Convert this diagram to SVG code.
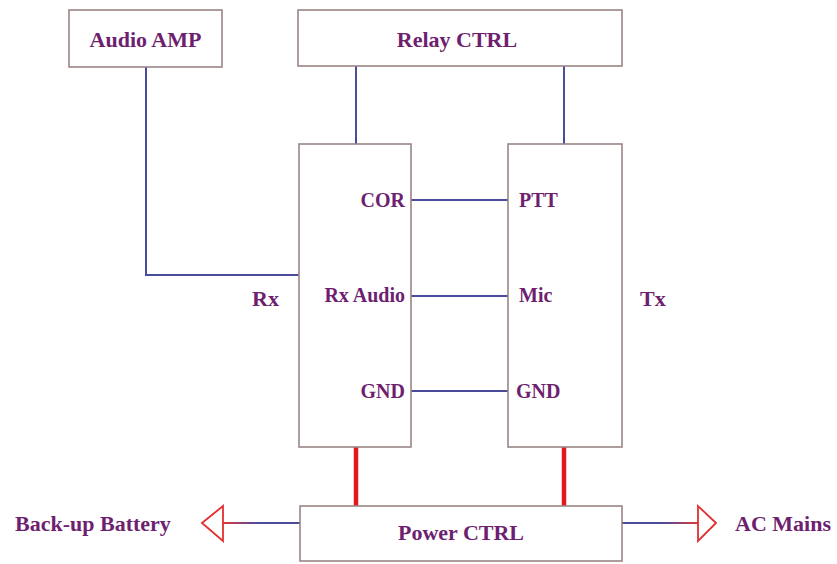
<svg xmlns="http://www.w3.org/2000/svg" width="837" height="564" viewBox="0 0 837 564">
<style>
.box{fill:#fff;stroke:#9c8585;stroke-width:1.6}
.t{font-family:"Liberation Serif","Times New Roman",serif;font-weight:bold;fill:#6e1f70}
.big{font-size:22px}
.port{font-size:20px}
.w{stroke:#4b4b9b;stroke-width:2;fill:none}
.p{stroke:#e3191c;stroke-width:4.5;fill:none}
.arr{fill:#fff;stroke:#e03030;stroke-width:1.8}
</style>
<defs>
<linearGradient id="gl" x1="223" y1="0" x2="300" y2="0" gradientUnits="userSpaceOnUse">
<stop offset="0" stop-color="#e03a3a"/><stop offset="0.45" stop-color="#4b4b9b"/><stop offset="1" stop-color="#4b4b9b"/>
</linearGradient>
<linearGradient id="gr" x1="622" y1="0" x2="698" y2="0" gradientUnits="userSpaceOnUse">
<stop offset="0" stop-color="#4b4b9b"/><stop offset="0.55" stop-color="#4b4b9b"/><stop offset="1" stop-color="#e03a3a"/>
</linearGradient>
</defs>
<rect width="837" height="564" fill="#fff"/>
<g id="connectors">
<polyline class="w" points="146,67 146,275 299,275"/>
<line class="w" x1="356" y1="66" x2="356" y2="144"/>
<line class="w" x1="564" y1="66" x2="564" y2="144"/>
<line class="w" x1="411" y1="200" x2="508" y2="200"/>
<line class="w" x1="411" y1="296" x2="508" y2="296"/>
<line class="w" x1="411" y1="391" x2="508" y2="391"/>
<line class="p" x1="356" y1="447" x2="356" y2="506"/>
<line class="p" x1="564" y1="447" x2="564" y2="506"/>
<line stroke="url(#gl)" stroke-width="2" x1="223" y1="523" x2="300" y2="523"/>
<line stroke="url(#gr)" stroke-width="2" x1="622" y1="523" x2="698" y2="523"/>
<polygon class="arr" points="202,523 223,506 223,541"/>
<polygon class="arr" points="716,523 698,506 698,541"/>
</g>
<g id="audio-amp">
<rect class="box" x="69" y="10" width="153" height="57"/>
<text class="t big" x="145.5" y="47" text-anchor="middle">Audio AMP</text>
</g>
<g id="relay-ctrl">
<rect class="box" x="298" y="10" width="324" height="56"/>
<text class="t big" x="457" y="47" text-anchor="middle">Relay CTRL</text>
</g>
<g id="rx">
<rect class="box" x="299" y="144" width="112" height="303"/>
<text class="t port" x="405" y="207" text-anchor="end">COR</text>
<text class="t port" x="405" y="302" text-anchor="end">Rx Audio</text>
<text class="t port" x="405" y="398" text-anchor="end">GND</text>
<text class="t big" x="252" y="306">Rx</text>
</g>
<g id="tx">
<rect class="box" x="508" y="144" width="114" height="303"/>
<text class="t port" x="519" y="207">PTT</text>
<text class="t port" x="519" y="302">Mic</text>
<text class="t port" x="516" y="398">GND</text>
<text class="t big" x="640" y="306">Tx</text>
</g>
<g id="power-ctrl">
<rect class="box" x="300" y="506" width="322" height="55"/>
<text class="t big" x="461" y="540" text-anchor="middle">Power CTRL</text>
</g>
<g id="backup-battery">
<text class="t big" x="15" y="531">Back-up Battery</text>
</g>
<g id="ac-mains">
<text class="t big" x="735" y="531">AC Mains</text>
</g>
</svg>
